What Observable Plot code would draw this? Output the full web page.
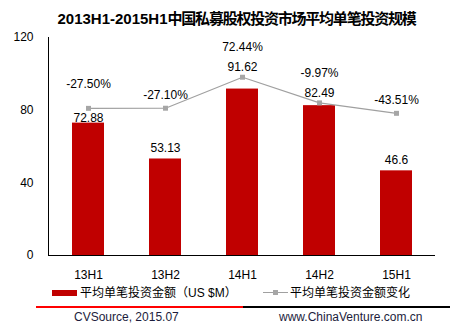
<!DOCTYPE html>
<html><head><meta charset="utf-8">
<script src="https://cdn.jsdelivr.net/npm/d3@7"></script>
<script src="https://cdn.jsdelivr.net/npm/@observablehq/plot@0.6"></script>
<style>
body{margin:0;background:#fff;}
#wrap{position:relative;width:461px;height:330px;overflow:hidden;font-family:"Liberation Sans",Arial,"Noto Sans CJK SC",sans-serif;color:#000;}
#title{position:absolute;left:0;top:10px;width:473px;text-align:center;font-weight:bold;font-size:15px;line-height:18px;font-family:"Liberation Sans","Noto Sans CJK SC",sans-serif;z-index:2;white-space:nowrap;}
#chart{position:absolute;left:0;top:0;}
.leg{position:absolute;font-size:12px;line-height:14px;font-family:"Liberation Sans","Noto Sans CJK SC",sans-serif;}
.foot{position:absolute;font-size:12px;line-height:14px;color:#1c1c3c;}
</style>
</head><body>
<div id="wrap">
  <div id="title"><span id="tLat"></span><span id="tCjk"></span></div>
  <div id="chart"></div>
  <div style="position:absolute;left:52px;top:290px;width:25px;height:6px;background:#C00000"></div>
  <div class="leg" id="leg1" style="left:80px;top:286px;"></div>
  <div style="position:absolute;left:263px;top:292px;width:25px;height:1px;background:#A0A0A0"></div>
  <div style="position:absolute;left:273px;top:290px;width:5px;height:5px;background:#A6A6A6"></div>
  <div class="leg" id="leg2" style="left:290px;top:286px;"></div>
  <div style="position:absolute;left:36px;top:306px;width:207px;height:2px;background:#FF0000"></div>
  <div style="position:absolute;left:243px;top:306px;width:207px;height:2px;background:#000"></div>
  <div class="foot" id="src" style="left:74px;top:310px;"></div>
  <div class="foot" id="web" style="left:279px;top:310px;"></div>
</div>
<script>
const titleLatin = "2013H1-2015H1";
const titleCjk = "中国私募股权投资市场平均单笔投资规模";
const categories = ["13H1", "13H2", "14H1", "14H2", "15H1"];
const amounts = [72.88, 53.13, 91.62, 82.49, 46.6];
const changes = [-27.50, -27.10, 72.44, -9.97, -43.51];
const yTicks = [0, 40, 80, 120];
const yDomain = [0, 120];
const pctAxisDomain = [-500, 200]; // hidden secondary axis (%)
const seriesNames = ["平均单笔投资金额（US $M）", "平均单笔投资金额变化"];
const sourceText = "CVSource, 2015.07";
const webText = "www.ChinaVenture.com.cn";

document.getElementById("tLat").textContent = titleLatin;
const cj = document.getElementById("tCjk");
cj.textContent = titleCjk;
const cjW = cj.getBoundingClientRect().width;
cj.style.letterSpacing = ((248 - cjW) / titleCjk.length) + "px";
document.getElementById("leg1").textContent = seriesNames[0];
document.getElementById("leg2").textContent = seriesNames[1];
document.getElementById("src").textContent = sourceText;
document.getElementById("web").textContent = webText;

const W = 461, H = 290, mT = 37, mB = 35, mL = 48, mR = 26;
const ppu = (H - mT - mB) / (yDomain[1] - yDomain[0]);
const sec = d3.scaleLinear().domain(pctAxisDomain).range(yDomain);

const data = categories.map((c, i) => {
  const B = amounts[i];
  const M = sec(changes[i]);
  const gapPx = (M - B) * ppu;
  let barLabelY, pctLabelY;
  if (gapPx > 20 || gapPx < -8) {
    barLabelY = B + 11 / ppu;
    pctLabelY = M + 13 / ppu;
  } else if (gapPx > 13) {
    barLabelY = B + 5 / ppu;
    pctLabelY = M + 24 / ppu;
  } else {
    barLabelY = M + 10 / ppu;
    pctLabelY = barLabelY + 20 / ppu;
  }
  return {cat: c, amt: B, chgY: M, chg: changes[i], barLabelY, pctLabelY};
});

const chart = Plot.plot({
  width: W, height: H,
  marginTop: mT, marginBottom: mB, marginLeft: mL, marginRight: mR,
  style: {fontSize: "12px", fontFamily: "'Liberation Sans', Arial, sans-serif", color: "#000", background: "transparent"},
  x: {domain: categories, paddingInner: 0.587, paddingOuter: 0.293, tickSize: 0, tickPadding: 15, label: null},
  y: {domain: yDomain, ticks: yTicks, tickSize: 0, tickPadding: 15, label: null, line: true},
  marks: [
    Plot.barY(data, {x: "cat", y: "amt", fill: "#C00000"}),
    Plot.ruleY([0], {stroke: "#000", strokeWidth: 1.2}),
    Plot.line(data, {x: "cat", y: "chgY", stroke: "#A0A0A0", strokeWidth: 1.1}),
    Plot.dot(data, {x: "cat", y: "chgY", symbol: "square", r: 2.8, fill: "#A6A6A6", stroke: "none"}),
    Plot.text(data, {x: "cat", y: "barLabelY", text: d => String(d.amt), fontSize: 12, fill: "#000"}),
    Plot.text(data, {x: "cat", y: "pctLabelY", text: d => d.chg.toFixed(2) + "%", fontSize: 12, fill: "#000"})
  ]
});
document.getElementById("chart").appendChild(chart);
</script>
</body></html>
